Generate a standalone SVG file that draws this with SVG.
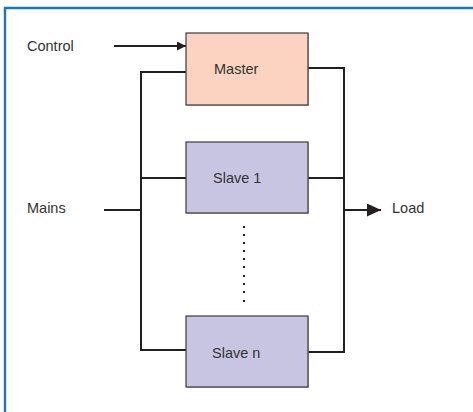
<svg xmlns="http://www.w3.org/2000/svg" width="473" height="412" viewBox="0 0 473 412">
  <style>
    .lbl { font-family: "Liberation Sans", Arial, sans-serif; font-size: 14.5px; fill: #333333; }
    .wire { fill: none; stroke: #231f20; stroke-width: 2; stroke-linejoin: miter; }
    .box { stroke: #3a3a3a; stroke-width: 1.2; }
    .master { fill: #fcd3c0; }
    .slave { fill: #c8c5e3; }
    .shadow { fill: #9a9a9a; opacity: 0.6; }
    .dot { fill: #231f20; }
  </style>
  <defs>
    <marker id="arrowSmall" markerWidth="10" markerHeight="10" refX="9" refY="4.5" orient="auto" markerUnits="userSpaceOnUse">
      <path d="M0,0 L9,4.5 L0,9 Z" fill="#231f20"/>
    </marker>
    <marker id="arrowLarge" markerWidth="15" markerHeight="14" refX="14" refY="6.5" orient="auto" markerUnits="userSpaceOnUse">
      <path d="M0,0 L14,6.5 L0,13 Z" fill="#231f20"/>
    </marker>
  </defs>

  <rect x="0" y="0" width="473" height="412" fill="#ffffff"/>
  <!-- frame: top and left rules -->
  <path d="M5,412 L5,8 L473,8" fill="none" stroke="#1b77b7" stroke-width="2.4"/>

  <g id="connectors">
    <!-- control input -->
    <line class="wire" x1="114" y1="46" x2="186" y2="46" marker-end="url(#arrowSmall)"/>
    <!-- mains bus -->
    <polyline class="wire" points="186,72 141,72 141,350 186,350"/>
    <line class="wire" x1="141" y1="178" x2="186" y2="178"/>
    <line class="wire" x1="104" y1="210" x2="141" y2="210"/>
    <!-- load bus -->
    <polyline class="wire" points="308,68 344,68 344,352 308,352"/>
    <line class="wire" x1="308" y1="178" x2="344" y2="178"/>
    <line class="wire" x1="344" y1="210" x2="381" y2="210" marker-end="url(#arrowLarge)"/>
  </g>

  <g id="control-label">
    <text class="lbl" x="27" y="51">Control</text>
  </g>
  <g id="mains-label">
    <text class="lbl" x="27" y="213">Mains</text>
  </g>
  <g id="load-label">
    <text class="lbl" x="392" y="213">Load</text>
  </g>

  <g id="master">
    <rect class="shadow" x="187" y="34" width="122" height="72"/>
    <rect class="box master" x="186" y="33" width="122" height="72"/>
    <text class="lbl" x="214" y="74">Master</text>
  </g>

  <g id="slave-1">
    <rect class="shadow" x="187" y="143" width="122" height="71"/>
    <rect class="box slave" x="186" y="142" width="122" height="71"/>
    <text class="lbl" x="213" y="183">Slave 1</text>
  </g>

  <g id="ellipsis">
    <rect class="dot" x="243" y="226" width="2" height="2"/>
    <rect class="dot" x="243" y="234" width="2" height="2"/>
    <rect class="dot" x="243" y="242" width="2" height="2"/>
    <rect class="dot" x="243" y="250" width="2" height="2"/>
    <rect class="dot" x="243" y="258" width="2" height="2"/>
    <rect class="dot" x="243" y="266" width="2" height="2"/>
    <rect class="dot" x="243" y="275" width="2" height="2"/>
    <rect class="dot" x="243" y="283" width="2" height="2"/>
    <rect class="dot" x="243" y="291" width="2" height="2"/>
    <rect class="dot" x="243" y="300" width="2" height="2"/>
  </g>

  <g id="slave-n">
    <rect class="shadow" x="187" y="317" width="122" height="71"/>
    <rect class="box slave" x="186" y="316" width="122" height="71"/>
    <text class="lbl" x="212" y="358">Slave n</text>
  </g>
</svg>
